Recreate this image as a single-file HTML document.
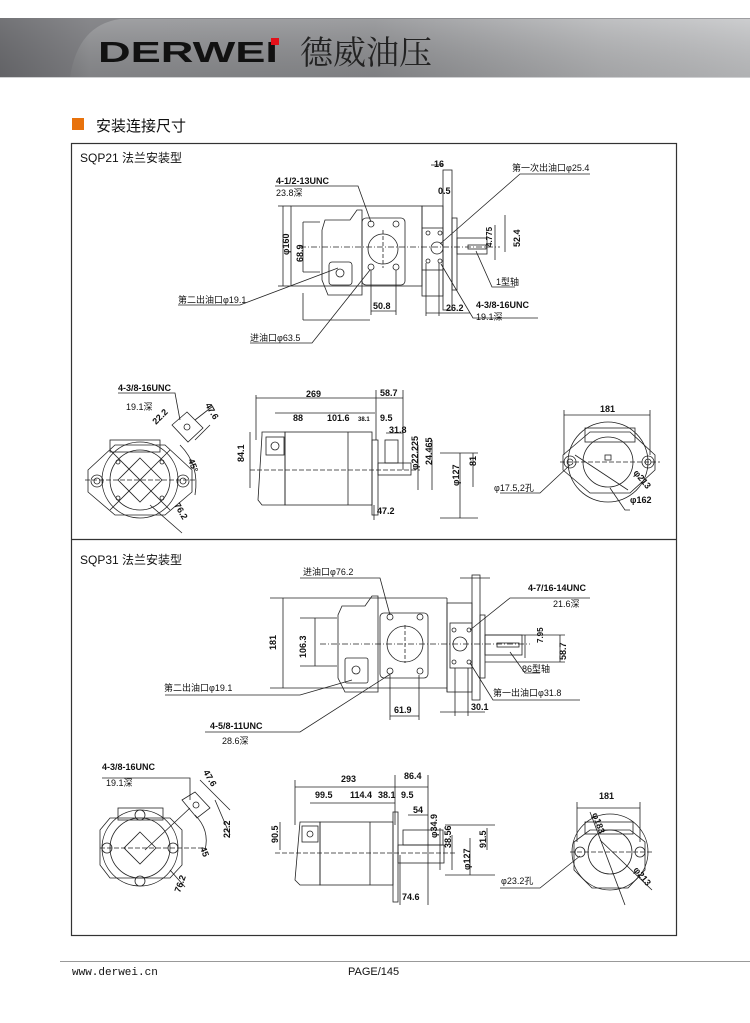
<!DOCTYPE html>
<html><head><meta charset="utf-8">
<style>
html,body{margin:0;padding:0;background:#fff;}
body{width:750px;height:1018px;overflow:hidden;position:relative;font-family:"Liberation Sans","Noto Sans CJK SC",sans-serif;}
svg text{font-family:"Liberation Sans","Noto Sans CJK SC",sans-serif;fill:#111;}
</style></head><body>
<svg width="750" height="1018" viewBox="0 0 750 1018" xmlns="http://www.w3.org/2000/svg">
<defs>
<linearGradient id="hg" x1="0" x2="1" y1="0" y2="0">
<stop offset="0" stop-color="#5f6063"/><stop offset="0.12" stop-color="#8f9093"/><stop offset="0.5" stop-color="#8d8e91"/><stop offset="0.8" stop-color="#b4b5b7"/><stop offset="1" stop-color="#c4c5c7"/>
</linearGradient>
<linearGradient id="hv" x1="0" x2="0" y1="0" y2="1">
<stop offset="0" stop-color="#fff" stop-opacity="0.15"/><stop offset="1" stop-color="#000" stop-opacity="0.1"/>
</linearGradient>
</defs>
<rect x="0" y="18" width="750" height="59" fill="url(#hg)"/>
<rect x="0" y="18" width="750" height="59" fill="url(#hv)"/>
<path d="M70 77 Q78 25 120 19 L750 19 L750 18 L0 18 L0 77Z" fill="#6f7073" opacity="0.5"/>
<line x1="0" y1="77.5" x2="750" y2="77.5" stroke="#cfd0d2"/>
<text x="98" y="62" font-size="29" font-weight="bold" textLength="180" lengthAdjust="spacingAndGlyphs" style="fill:#111">DERWEI</text>
<rect x="271" y="38" width="8" height="7" fill="#e3101a"/>
<text x="300" y="64" font-size="33" style="fill:#222;font-family:'Noto Serif CJK SC','Noto Sans CJK SC',serif">德威油压</text>
<rect x="72" y="118" width="12" height="12" fill="#e8720c"/>
<text x="96" y="131" font-size="15">安装连接尺寸</text>
<rect x="71.5" y="143.5" width="605" height="792" fill="none" stroke="#333" stroke-width="1.2"/>
<line x1="71.5" y1="539.5" x2="676.5" y2="539.5" stroke="#333" stroke-width="1.2"/>
<text x="80" y="162" font-size="12">SQP21 法兰安装型</text>
<text x="80" y="564" font-size="12">SQP31 法兰安装型</text>

<g fill="none" stroke="#222" stroke-width="0.8">
<rect x="291" y="206" width="131" height="80"/>
<line x1="303" y1="222" x2="320" y2="222"/><line x1="303" y1="272" x2="320" y2="272"/>
<path d="M325 220 L350 220 L357 210 L362 210 L362 295 L328 295 L322 280 L322 230Z"/>
<rect x="362" y="218" width="43" height="67" rx="4"/>
<circle cx="383" cy="249" r="15"/>
<circle cx="371" cy="224" r="3"/><circle cx="396" cy="224" r="3"/><circle cx="371" cy="267" r="3"/><circle cx="396" cy="267" r="3"/>
<rect x="329" y="262" width="23" height="23" rx="3"/><circle cx="340" cy="273" r="4"/>
<rect x="422" y="206" width="21" height="90"/>
<rect x="422" y="228" width="21" height="42"/>
<circle cx="437" cy="248" r="6"/>
<circle cx="428" cy="233" r="2"/><circle cx="440" cy="233" r="2"/><circle cx="428" cy="261" r="2"/><circle cx="440" cy="261" r="2"/>
<rect x="443" y="170" width="9" height="140"/>
<rect x="452" y="218" width="5" height="72"/>
<rect x="457" y="238" width="30" height="16"/>
<rect x="468" y="245" width="18" height="4"/>
<line x1="300" y1="247" x2="500" y2="247" stroke-dasharray="6 2 1 2"/>
<line x1="383" y1="230" x2="383" y2="268" stroke-dasharray="4 2"/>
<line x1="283" y1="206" x2="283" y2="286"/><line x1="278" y1="206" x2="291" y2="206"/><line x1="278" y1="286" x2="291" y2="286"/>
<line x1="303" y1="222" x2="303" y2="272"/>
<line x1="303" y1="293" x2="303" y2="320"/><line x1="303" y1="320" x2="370" y2="320"/>
<line x1="371" y1="270" x2="371" y2="315"/><line x1="396" y1="270" x2="396" y2="315"/><line x1="371" y1="311" x2="396" y2="311"/>
<line x1="426" y1="263" x2="426" y2="316"/><line x1="439" y1="263" x2="439" y2="316"/><line x1="426" y1="313" x2="470" y2="313"/>
<line x1="431" y1="165" x2="443" y2="165"/>
<line x1="495" y1="225" x2="495" y2="260"/><line x1="505" y1="215" x2="505" y2="252"/>
<polyline points="275,186 358,186 371,222"/>
<polyline points="178,305 240,305 338,268"/>
<polyline points="250,343 312,343 370,270"/>
<polyline points="590,174 520,174 440,244"/>
<polyline points="538,318 473,318 441,264"/>
<polyline points="515,287 492,287 476,251"/>

<rect x="110" y="440" width="50" height="12"/>
<path d="M88 470 L115 445 L165 445 L192 470 L192 492 L165 515 L115 515 L88 492Z"/>
<circle cx="140" cy="480" r="38"/><circle cx="140" cy="480" r="30"/>
<circle cx="97" cy="481" r="6"/><circle cx="97" cy="481" r="3"/>
<circle cx="183" cy="481" r="6"/><circle cx="183" cy="481" r="3"/>
<path d="M140 458 L162 480 L140 502 L118 480Z"/>
<circle cx="118" cy="462" r="2"/><circle cx="162" cy="462" r="2"/><circle cx="118" cy="498" r="2"/><circle cx="162" cy="498" r="2"/>
<line x1="110" y1="450" x2="170" y2="510"/><line x1="170" y1="450" x2="110" y2="510"/>
<line x1="85" y1="480" x2="195" y2="480" stroke-dasharray="5 2"/>
<path d="M172 425 L187 412 L203 428 L188 442Z"/><circle cx="187" cy="427" r="3"/>
<line x1="150" y1="505" x2="182" y2="533"/><line x1="195" y1="440" x2="210" y2="425"/>
<line x1="195" y1="420" x2="213" y2="406"/>
<path d="M180 445 Q200 465 195 495"/>
<polyline points="118,393 175,393 180,420"/>

<path d="M262 435 L258 500 L262 505 L285 505 L285 432 L262 432Z"/>
<rect x="285" y="432" width="87" height="73"/>
<line x1="348" y1="432" x2="348" y2="505"/>
<rect x="372" y="440" width="6" height="75"/>
<rect x="378" y="463" width="33" height="12"/>
<rect x="385" y="440" width="13" height="23"/>
<rect x="266" y="437" width="18" height="18"/><circle cx="275" cy="446" r="4"/>
<line x1="250" y1="470" x2="420" y2="470" stroke-dasharray="5 2"/>
<line x1="256" y1="395" x2="256" y2="440"/><line x1="376" y1="390" x2="376" y2="440"/><line x1="403" y1="390" x2="403" y2="470"/>
<line x1="256" y1="398" x2="403" y2="398"/>
<line x1="275" y1="413" x2="375" y2="413"/>
<line x1="386" y1="433" x2="403" y2="433"/>
<line x1="250" y1="432" x2="250" y2="488"/>
<line x1="418" y1="445" x2="418" y2="490"/><line x1="432" y1="440" x2="432" y2="490"/>
<line x1="460" y1="453" x2="460" y2="518"/><line x1="473" y1="453" x2="473" y2="487"/>
<line x1="440" y1="453" x2="478" y2="453"/><line x1="440" y1="518" x2="478" y2="518"/>
<line x1="374" y1="505" x2="374" y2="520"/>

<rect x="585" y="428" width="50" height="14"/>
<path d="M563 455 L590 432 L630 432 L655 455 L655 470 L630 493 L590 493 L563 470Z"/>
<circle cx="608" cy="462" r="40"/><circle cx="608" cy="462" r="25"/>
<circle cx="570" cy="462" r="6"/><circle cx="570" cy="462" r="3"/>
<circle cx="648" cy="462" r="6"/><circle cx="648" cy="462" r="3"/>
<rect x="605" y="455" width="6" height="5"/>
<line x1="560" y1="462" x2="660" y2="462" stroke-dasharray="5 2"/>
<line x1="564" y1="410" x2="564" y2="455"/><line x1="650" y1="410" x2="650" y2="455"/><line x1="564" y1="415" x2="650" y2="415"/>
<line x1="575" y1="455" x2="628" y2="490"/>
<polyline points="500,493 540,493 570,465"/>
<polyline points="630,510 625,510 610,488"/>

<line x1="270" y1="598" x2="447" y2="598"/><line x1="270" y1="688" x2="447" y2="688"/>
<line x1="447" y1="598" x2="447" y2="692"/>
<line x1="300" y1="618" x2="337" y2="618"/><line x1="300" y1="666" x2="337" y2="666"/>
<path d="M342 606 L365 606 L372 596 L378 596 L378 692 L345 692 L338 678 L338 615Z"/>
<rect x="380" y="613" width="48" height="65" rx="4"/>
<circle cx="405" cy="644" r="18"/>
<circle cx="390" cy="617" r="3"/><circle cx="420" cy="617" r="3"/><circle cx="390" cy="671" r="3"/><circle cx="420" cy="671" r="3"/>
<rect x="345" y="658" width="23" height="25" rx="2"/><circle cx="356" cy="670" r="4"/>
<rect x="447" y="603" width="25" height="89"/>
<rect x="450" y="623" width="22" height="45"/>
<circle cx="460" cy="644" r="7"/>
<circle cx="454" cy="630" r="2"/><circle cx="469" cy="630" r="2"/><circle cx="454" cy="662" r="2"/><circle cx="469" cy="662" r="2"/>
<rect x="472" y="575" width="8" height="125"/>
<rect x="480" y="615" width="5" height="63"/>
<rect x="485" y="635" width="37" height="20"/>
<rect x="497" y="643" width="22" height="4"/>
<line x1="320" y1="644" x2="530" y2="644" stroke-dasharray="6 2 1 2"/>
<line x1="405" y1="625" x2="405" y2="663" stroke-dasharray="4 2"/>
<line x1="283" y1="598" x2="283" y2="688"/><line x1="315" y1="618" x2="315" y2="666"/>
<line x1="390" y1="675" x2="390" y2="720"/><line x1="419" y1="675" x2="419" y2="720"/><line x1="390" y1="716" x2="419" y2="716"/>
<line x1="455" y1="668" x2="455" y2="716"/><line x1="468" y1="668" x2="468" y2="716"/><line x1="440" y1="712" x2="485" y2="712"/>
<line x1="460" y1="578" x2="490" y2="578"/>
<line x1="525" y1="635" x2="525" y2="658"/><line x1="560" y1="635" x2="560" y2="662"/>
<line x1="485" y1="635" x2="565" y2="635"/><line x1="485" y1="662" x2="565" y2="662"/>
<polyline points="300,578 380,578 390,615"/>
<polyline points="590,598 510,598 470,630"/>
<polyline points="165,695 300,695 352,680"/>
<polyline points="205,732 300,732 392,673"/>
<polyline points="580,700 493,700 470,663"/>
<polyline points="540,673 525,673 510,652"/>

<rect x="118" y="808" width="45" height="12"/>
<circle cx="140" cy="848" r="38"/><circle cx="140" cy="848" r="30"/>
<path d="M100 830 L110 818 L170 818 L182 830 L182 865 L170 878 L110 878 L100 865Z"/>
<circle cx="107" cy="848" r="5"/><circle cx="173" cy="848" r="5"/><circle cx="140" cy="815" r="5"/><circle cx="140" cy="881" r="5"/>
<path d="M140 832 L156 848 L140 864 L124 848Z"/>
<line x1="100" y1="848" x2="205" y2="848" stroke-dasharray="5 2"/>
<path d="M182 800 L195 792 L210 808 L197 818Z"/><circle cx="196" cy="805" r="3"/>
<line x1="145" y1="850" x2="190" y2="808"/>
<line x1="170" y1="870" x2="185" y2="887"/>
<polyline points="102,778 190,778 190,800"/>
<line x1="200" y1="780" x2="230" y2="810"/><line x1="215" y1="800" x2="230" y2="835"/>
<path d="M195 815 Q210 830 205 850"/>

<path d="M300 822 L295 880 L300 885 L320 885 L320 822Z"/>
<rect x="320" y="822" width="73" height="63"/>
<line x1="370" y1="822" x2="370" y2="885"/>
<rect x="393" y="812" width="5" height="90"/>
<rect x="398" y="845" width="46" height="18"/>
<rect x="403" y="830" width="40" height="15"/>
<rect x="302" y="826" width="16" height="16"/><circle cx="310" cy="834" r="3"/>
<line x1="275" y1="853" x2="455" y2="853" stroke-dasharray="5 2"/>
<line x1="295" y1="780" x2="295" y2="825"/><line x1="395" y1="775" x2="395" y2="825"/><line x1="428" y1="775" x2="428" y2="905"/>
<line x1="295" y1="787" x2="428" y2="787"/>
<line x1="310" y1="803" x2="395" y2="803"/>
<line x1="408" y1="815" x2="428" y2="815"/>
<line x1="400" y1="855" x2="400" y2="905"/>
<line x1="280" y1="822" x2="280" y2="850"/>
<line x1="440" y1="828" x2="440" y2="870"/><line x1="452" y1="835" x2="452" y2="870"/>
<line x1="470" y1="838" x2="470" y2="875"/><line x1="487" y1="828" x2="487" y2="850"/>
<line x1="445" y1="825" x2="495" y2="825"/><line x1="445" y1="875" x2="495" y2="875"/>

<rect x="585" y="822" width="48" height="12"/>
<path d="M574 842 L590 830 L630 830 L645 842 L645 870 L628 888 L592 888 L574 870Z"/>
<circle cx="610" cy="852" r="38"/><circle cx="610" cy="852" r="22"/>
<circle cx="580" cy="852" r="5"/><circle cx="640" cy="852" r="5"/>
<line x1="570" y1="852" x2="652" y2="852" stroke-dasharray="5 2"/>
<line x1="577" y1="802" x2="577" y2="842"/><line x1="640" y1="802" x2="640" y2="842"/><line x1="577" y1="808" x2="640" y2="808"/>
<line x1="590" y1="812" x2="625" y2="905"/>
<line x1="600" y1="840" x2="652" y2="890"/>
<polyline points="500,888 540,888 580,856"/>
</g>

<g font-size="9" font-weight="bold">
<text x="276" y="184">4-1/2-13UNC</text>
<text x="276" y="196" font-weight="normal">23.8深</text>
<text x="434" y="167">16</text>
<text x="438" y="194">0.5</text>
<text x="512" y="171" font-weight="normal">第一次出油口φ25.4</text>
<text x="178" y="303" font-weight="normal">第二出油口φ19.1</text>
<text x="250" y="341" font-weight="normal">进油口φ63.5</text>
<text x="373" y="309">50.8</text>
<text x="446" y="311">26.2</text>
<text x="476" y="308">4-3/8-16UNC</text>
<text x="476" y="320" font-weight="normal">19.1深</text>
<text x="496" y="285" font-weight="normal">1型轴</text>
<text transform="translate(289,255) rotate(-90)">φ160</text>
<text transform="translate(303,262) rotate(-90)">68.9</text>
<text transform="translate(492,247) rotate(-90)" font-size="8">4.775</text>
<text transform="translate(520,247) rotate(-90)">52.4</text>

<text x="118" y="391">4-3/8-16UNC</text>
<text x="126" y="410" font-weight="normal">19.1深</text>
<text transform="translate(156,425) rotate(-45)">22.2</text>
<text transform="translate(205,405) rotate(60)">47.6</text>
<text transform="translate(188,460) rotate(70)">45°</text>
<text transform="translate(174,505) rotate(60)">76.2</text>
<text x="306" y="397">269</text>
<text x="380" y="396">58.7</text>
<text x="293" y="421">88</text>
<text x="327" y="421">101.6</text>
<text x="358" y="421" font-size="6">38.1</text>
<text x="380" y="421">9.5</text>
<text x="389" y="433">31.8</text>
<text transform="translate(244,462) rotate(-90)">84.1</text>
<text transform="translate(418,470) rotate(-90)">φ22.225</text>
<text transform="translate(432,465) rotate(-90)">24.465</text>
<text transform="translate(459,486) rotate(-90)">φ127</text>
<text transform="translate(476,466) rotate(-90)">81</text>
<text x="377" y="514">47.2</text>
<text x="600" y="412">181</text>
<text transform="translate(633,473) rotate(50)">φ213</text>
<text x="494" y="491" font-weight="normal">φ17.5,2孔</text>
<text x="630" y="503">φ162</text>

<text x="303" y="575" font-weight="normal">进油口φ76.2</text>
<text x="528" y="591">4-7/16-14UNC</text>
<text x="553" y="607" font-weight="normal">21.6深</text>
<text transform="translate(543,643) rotate(-90)" font-size="8">7.95</text>
<text transform="translate(566,660) rotate(-90)">58.7</text>
<text x="522" y="672" font-weight="normal">86型轴</text>
<text x="493" y="696" font-weight="normal">第一出油口φ31.8</text>
<text x="164" y="691" font-weight="normal">第二出油口φ19.1</text>
<text x="210" y="729">4-5/8-11UNC</text>
<text x="222" y="744" font-weight="normal">28.6深</text>
<text x="394" y="713">61.9</text>
<text x="471" y="710">30.1</text>
<text transform="translate(276,650) rotate(-90)">181</text>
<text transform="translate(306,658) rotate(-90)">106.3</text>

<text x="102" y="770">4-3/8-16UNC</text>
<text x="106" y="786" font-weight="normal">19.1深</text>
<text transform="translate(203,772) rotate(60)">47.6</text>
<text transform="translate(230,838) rotate(-90)">22.2</text>
<text transform="translate(200,848) rotate(70)">45</text>
<text transform="translate(180,893) rotate(-70)">76.2</text>
<text x="341" y="782">293</text>
<text x="404" y="779">86.4</text>
<text x="315" y="798">99.5</text>
<text x="350" y="798">114.4</text>
<text x="378" y="798">38.1</text>
<text x="401" y="798">9.5</text>
<text x="413" y="813">54</text>
<text transform="translate(278,843) rotate(-90)">90.5</text>
<text transform="translate(437,838) rotate(-90)">φ34.9</text>
<text transform="translate(451,848) rotate(-90)">38.56</text>
<text transform="translate(470,870) rotate(-90)">φ127</text>
<text transform="translate(486,848) rotate(-90)">91.5</text>
<text x="402" y="900">74.6</text>
<text x="599" y="799">181</text>
<text transform="translate(592,814) rotate(70)">φ183</text>
<text x="501" y="884" font-weight="normal">φ23.2孔</text>
<text transform="translate(633,870) rotate(50)">φ213</text>
</g>

<line x1="60" y1="961.5" x2="750" y2="961.5" stroke="#999" stroke-width="1"/>
<text x="72" y="975" font-size="11" style="font-family:'Liberation Mono',monospace">www.derwei.cn</text>
<text x="348" y="975" font-size="11">PAGE/145</text>
</svg>
</body></html>
